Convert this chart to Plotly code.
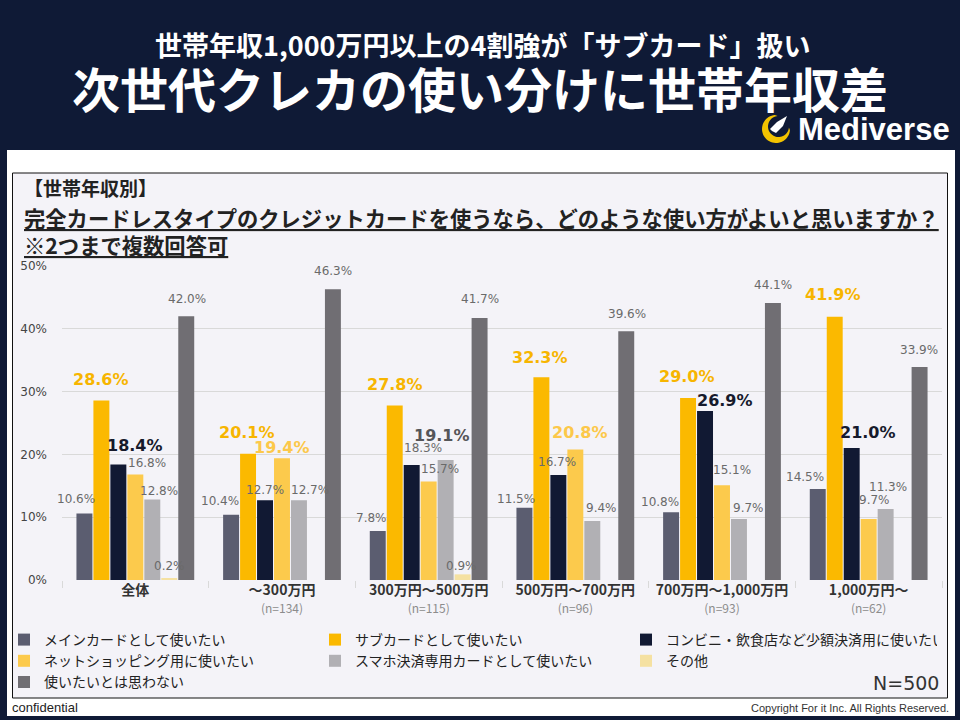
import numpy as np
import plotly.graph_objects as go

# ---------------- data ----------------
categories = ["全体", "～300万円", "300万円～500万円", "500万円～700万円", "700万円～1,000万円", "1,000万円～"]
n_counts = [None, 134, 115, 96, 93, 62]

series_names = [
    "メインカードとして使いたい",
    "サブカードとして使いたい",
    "コンビニ・飲食店など少額決済用に使いたい",
    "ネットショッピング用に使いたい",
    "スマホ決済専用カードとして使いたい",
    "その他",
    "使いたいとは思わない",
]
main_card = [10.6, 10.4, 7.8, 11.5, 10.8, 14.5]
sub_card = [28.6, 20.1, 27.8, 32.3, 29.0, 41.9]
small_payment = [18.4, 12.7, 18.3, 16.7, 26.9, 21.0]
net_shopping = [16.8, 19.4, 15.7, 20.8, 15.1, 9.7]
smartphone_pay = [12.8, 12.7, 19.1, 9.4, 9.7, 11.3]
other = [0.2, 0.0, 0.9, 0.0, 0.0, 0.0]
not_use = [42.0, 46.3, 41.7, 39.6, 44.1, 33.9]
series_values = [main_card, sub_card, small_payment, net_shopping, smartphone_pay, other, not_use]

y_ticks = [0, 10, 20, 30, 40, 50]

# ---------------- styles ----------------
colors = ["#5b5d70", "#fbb900", "#111933", "#fcca4c", "#b1b0b4", "#f5e1a2", "#706e73"]
# label style codes: n normal, y bold orange, l bold light yellow, d bold dark, g bold gray
label_style = [
    ["n", "n", "n", "n", "n", "n"],
    ["y", "y", "y", "y", "y", "y"],
    ["d", "n", "n", "n", "d", "d"],
    ["n", "l", "n", "l", "n", "n"],
    ["n", "n", "g", "n", "n", "n"],
    ["n", "n", "n", "n", "n", "n"],
    ["n", "n", "n", "n", "n", "n"],
]
# label offsets in pixels (dx from bar centre, dy above bar top)
label_dx = [
    [-8.5, -11, -6, -8, -11, -13],
    [0, -1, 0, -1, -1, -2],
    [16.5, 0, 11, -1, 20, 16],
    [11.5, 0, 11, 5, 9.5, 6],
    [7, 11, -4, 9, 9, 2],
    [0.5, 0, -1, 0, 0, 0],
    [1, 0, 0, 1, 0, -1],
]
label_dy = [
    [14, 14, 13, 9, 10, 12],
    [21, 21, 21, 20, 21, 22],
    [19, 10, 17, 13, 11, 16],
    [11.5, 11, 12, 17, 15, 19],
    [9, 10, 25, 13, 11, 22],
    [13, 0, 8, 0, 0, 0],
    [17, 18, 19, 17, 18, 17],
]
style_fonts = {
    "n": dict(family="DejaVu Sans", size=12, color="#6a6a6a"),
    "y": dict(family="DejaVu Sans", size=16, color="#f7b500", weight="bold"),
    "l": dict(family="DejaVu Sans", size=16, color="#fcc84a", weight="bold"),
    "d": dict(family="DejaVu Sans", size=16, color="#161a2c", weight="bold"),
    "g": dict(family="DejaVu Sans", size=16, color="#555558", weight="bold"),
}

NAVY = "#0f1a36"
JP = "Noto Sans CJK JP"
W, H = 960, 720


def X(x):
    return x / W


def Y(y):
    return 1 - y / H


fig = go.Figure()
for name, vals, col in zip(series_names, series_values, colors):
    fig.add_trace(go.Bar(x=categories, y=vals, name=name, marker_color=col,
                         marker_line_width=0, hoverinfo="skip"))

# data labels
annotations = []
for i, vals in enumerate(series_values):
    for g, v in enumerate(vals):
        if v <= 0:
            continue
        st = label_style[i][g]
        annotations.append(dict(
            x=categories[g], y=v, xref="x", yref="y", text=f"{v:.1f}%", showarrow=False,
            xshift=(i - 3) * 17 + label_dx[i][g], yshift=label_dy[i][g],
            yanchor="middle", xanchor="center", font=style_fonts[st]))

# tick texts
ticktext = []
for c, n in zip(categories, n_counts):
    t = f"<b>{c}</b>"
    if n is not None:
        t += f"<br><span style='font-size:12px;color:#8c8c8c'>(n={n})</span>"
    ticktext.append(t)


def page_text(x, y, text, font, xanchor="left"):
    return dict(x=X(x), y=Y(y), xref="paper", yref="paper", showarrow=False,
                xanchor=xanchor, yanchor="middle", text=text, font=font)


annotations += [
    page_text(482, 44, "<b>世帯年収1,000万円以上の4割強が「サブカード」扱い</b>",
              dict(family=JP, size=27, color="white"), "center"),
    page_text(480, 87, "<b>次世代クレカの使い分けに世帯年収差</b>",
              dict(family=JP, size=48, color="white"), "center"),
    page_text(796, 129, "<b>Mediverse</b>", dict(family="Liberation Sans", size=31, color="white")),
    page_text(22, 188, "<b>【世帯年収別】</b>", dict(family=JP, size=19, color="#222222")),
    page_text(22, 217, "<b><u>完全カードレスタイプのクレジットカードを使うなら、どのような使い方がよいと思いますか？</u></b>",
              dict(family=JP, size=21.3, color="#222222")),
    page_text(22, 244, "<b><u>※2つまで複数回答可</u></b>", dict(family=JP, size=21.3, color="#222222")),
    page_text(941, 683, "N=500", dict(family="DejaVu Sans", size=19, color="#333333"), "right"),
    page_text(10, 707, "confidential", dict(family="Liberation Sans", size=13, color="#222222")),
    page_text(951, 708, "Copyright For it Inc. All Rights Reserved.",
              dict(family="Liberation Sans", size=11, color="#333333"), "right"),
]

shapes = [
    dict(type="rect", xref="paper", yref="paper", x0=X(7), x1=X(955), y0=Y(716), y1=Y(150),
         fillcolor="white", line_width=0, layer="below"),
    dict(type="rect", xref="paper", yref="paper", x0=X(12.5), x1=X(947.5), y0=Y(698), y1=Y(173),
         fillcolor="#f4f3f8", line=dict(color="#111111", width=1), layer="below"),
]

# Mediverse crescent logo (decoration)
cx, cy = 776, 129
outer = [(cx + 14 * np.cos(np.radians(a)), cy - 14 * np.sin(np.radians(a))) for a in np.linspace(95, 355, 40)]
inner = [(cx + 2.5 + 10.5 * np.cos(np.radians(a)), cy - 2.5 - 10.5 * np.sin(np.radians(a))) for a in np.linspace(355, 95, 40)]
pts = outer + inner
path = "M " + " L ".join(f"{X(px):.5f} {Y(py):.5f}" for px, py in pts) + " Z"
shapes.append(dict(type="path", xref="paper", yref="paper", path=path, fillcolor="#f3c300", line_width=0))
rocket = [(787, 116), (783, 126), (776, 133), (772, 131), (770, 129), (777, 122)]
path2 = "M " + " L ".join(f"{X(px):.5f} {Y(py):.5f}" for px, py in rocket) + " Z"
shapes.append(dict(type="path", xref="paper", yref="paper", path=path2, fillcolor="white", line_width=0))

fig.update_layout(
    template="none",
    width=W, height=H, margin=dict(l=0, r=0, t=0, b=0, pad=0),
    paper_bgcolor=NAVY, plot_bgcolor="rgba(0,0,0,0)",
    barmode="group", bargap=0.19, bargroupgap=0.06,
    showlegend=True,
    legend=dict(orientation="h", x=X(4), y=Y(624), xanchor="left", yanchor="top",
                entrywidth=266, entrywidthmode="pixels", bgcolor="rgba(0,0,0,0)",
                font=dict(family=JP, size=14, color="#222222"), tracegroupgap=0,
                itemclick=False, itemdoubleclick=False),
    xaxis=dict(domain=[X(62), X(942)], automargin=False, tickmode="array",
               range=[-0.5, len(categories) - 0.5], autorange=False,
               tickvals=categories, ticktext=ticktext,
               tickfont=dict(family=JP, size=14, color="#333333"),
               ticks="outside", tickson="boundaries", ticklen=7, tickcolor="#d9d9d9",
               showgrid=False, showline=False, zeroline=False, fixedrange=True),
    yaxis=dict(domain=[Y(580), Y(266)], automargin=False, range=[0, 50],
               tickmode="array", tickvals=y_ticks, ticktext=[f"{t}%" for t in y_ticks],
               showgrid=True, gridcolor="#d9d9d9", gridwidth=1,
               zeroline=False, showline=False, ticks="", ticklabelstandoff=14,
               tickfont=dict(family="DejaVu Sans", size=12, color="#444444"), fixedrange=True),
    annotations=annotations, shapes=shapes,
    hovermode=False,
)

fig.write_html("out.html")
